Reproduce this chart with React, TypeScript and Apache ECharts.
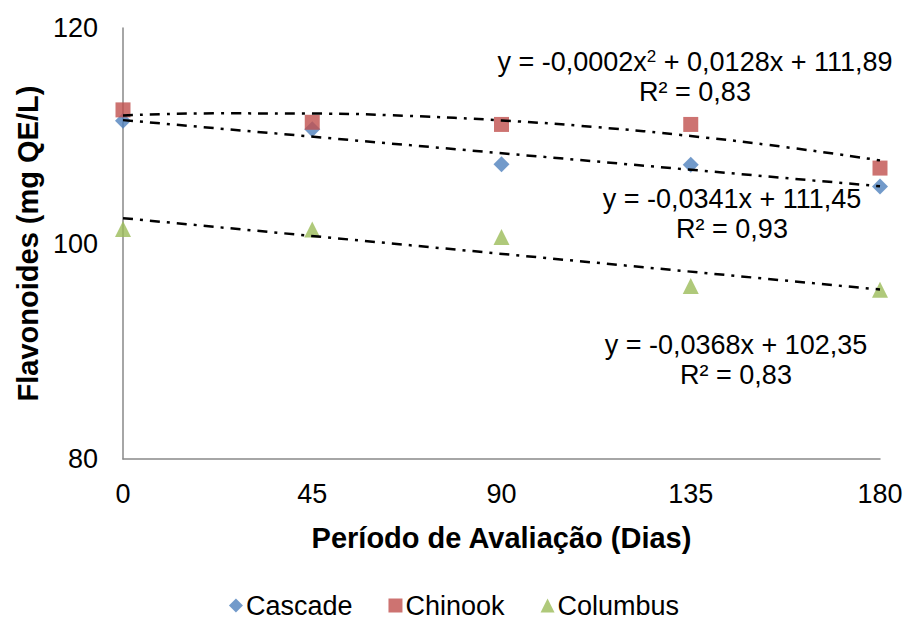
import React, { useEffect, useRef } from "react";
import * as echarts from "echarts";

const days = [0, 45, 90, 135, 180];
const cascade = [111.4, 110.6, 107.35, 107.3, 105.3];
const chinook = [112.4, 111.25, 111.05, 111.05, 107.0];
const columbus = [101.35, 101.3, 100.6, 96.05, 95.7];

const chinookTrendX = [0, 22.5, 45, 67.5, 90, 112.5, 135, 157.5, 180];
const chinookTrendY = [111.89, 112.077, 112.061, 111.843, 111.422, 110.799, 109.973, 108.945, 107.714];
const cascadeTrend = [[0, 111.45], [180, 105.31]];
const columbusTrend = [[0, 102.35], [180, 95.73]];

const equations = [
  "y = -0,0002x{sup|2} + 0,0128x + 111,89\nR² = 0,83",
  "y = -0,0341x + 111,45\nR² = 0,93",
  "y = -0,0368x + 102,35\nR² = 0,83",
];

const FONT = '"Liberation Sans", Arial, sans-serif';

export default function App() {
  const ref = useRef<HTMLDivElement>(null);
  useEffect(() => {
    if (!ref.current) return;
    const chart = echarts.init(ref.current, undefined, { renderer: "svg" });
    const trendStyle = { color: "#000", width: 2.5, type: [10, 7, 3, 7] as any };
    const pair = (xs: number[], ys: number[]) => xs.map((x, i) => [x, ys[i]]);
    chart.setOption({
      animation: false,
      textStyle: { fontFamily: FONT },
      grid: { left: 123, top: 28, width: 757, height: 431, containLabel: false, outerBoundsMode: "none" },
      xAxis: {
        type: "value",
        min: 0,
        max: 180,
        interval: 45,
        name: "Período de Avaliação (Dias)",
        nameLocation: "middle",
        nameGap: 64,
        nameTextStyle: { fontSize: 29, fontWeight: "bold", color: "#000", fontFamily: FONT },
        axisLine: { lineStyle: { color: "#898989", width: 1.5 } },
        axisTick: { show: false },
        splitLine: { show: false },
        axisLabel: { fontSize: 27, color: "#000", margin: 21, fontFamily: FONT },
      },
      yAxis: {
        type: "value",
        min: 80,
        max: 120,
        interval: 20,
        name: "Flavonoides (mg QE/L)",
        nameLocation: "middle",
        nameGap: 81,
        nameRotate: 90,
        nameTextStyle: { fontSize: 29, fontWeight: "bold", color: "#000", fontFamily: FONT },
        axisLine: { show: true, lineStyle: { color: "#898989", width: 1.5 } },
        axisTick: { show: false },
        splitLine: { show: false },
        axisLabel: { fontSize: 27, color: "#000", margin: 25, fontFamily: FONT },
      },
      legend: {
        left: "center",
        top: 592,
        padding: 0,
        itemWidth: 14,
        itemHeight: 14,
        itemGap: 36,
        textStyle: { fontSize: 27, lineHeight: 27, color: "#000", fontFamily: FONT, padding: [0, 0, 0, -2] },
        data: ["Cascade", "Chinook", "Columbus"],
      },
      series: [
        {
          name: "Cascade",
          type: "scatter",
          symbol: "diamond",
          symbolSize: 16,
          itemStyle: { color: "#4F81BD" },
          data: pair(days, cascade),
          z: 2,
        },
        {
          name: "Chinook",
          type: "scatter",
          symbol: "rect",
          symbolSize: 15,
          itemStyle: { color: "#C0504D" },
          data: pair(days, chinook),
          z: 2,
        },
        {
          name: "Columbus",
          type: "scatter",
          symbol: "triangle",
          symbolSize: 16,
          itemStyle: { color: "#9BBB59" },
          data: pair(days, columbus),
          z: 2,
        },
        {
          type: "line",
          smooth: true,
          symbol: "none",
          lineStyle: trendStyle,
          data: pair(chinookTrendX, chinookTrendY),
          z: 3,
        },
        {
          type: "line",
          symbol: "none",
          lineStyle: trendStyle,
          data: cascadeTrend,
          z: 3,
        },
        {
          type: "line",
          symbol: "none",
          lineStyle: trendStyle,
          data: columbusTrend,
          z: 3,
        },
      ],
      graphic: [
        { cx: 695, cy: 77 },
        { cx: 732, cy: 214 },
        { cx: 736, cy: 360 },
      ].map((p, i) => ({
        type: "text",
        x: p.cx,
        y: p.cy,
        style: {
          text: equations[i],
          fontSize: 27,
          lineHeight: 30,
          fontFamily: FONT,
          fill: "#000",
          align: "center",
          verticalAlign: "middle",
          rich: {
            sup: { fontSize: 17, fontFamily: FONT, fill: "#000", lineHeight: 30, padding: [0, 0, 12, 0] },
          },
        },
      })),
    });
    return () => chart.dispose();
  }, []);
  return <div ref={ref} style={{ position: "absolute", left: 0, top: 0, width: 908, height: 620 }} />;
}
